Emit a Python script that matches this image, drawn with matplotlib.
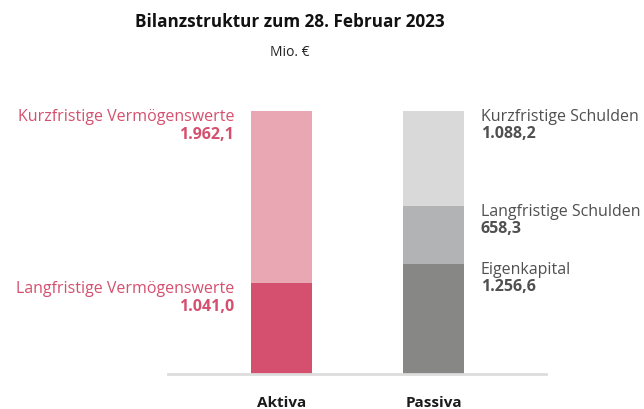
import numpy as np
import matplotlib.pyplot as plt
from matplotlib.transforms import offset_copy

plt.rcParams['font.family'] = ['Open Sans', 'DejaVu Sans']

# data (Mio. EUR)
categories = ['Aktiva', 'Passiva']
aktiva_labels = ['Langfristige Vermögenswerte', 'Kurzfristige Vermögenswerte']
aktiva_values = [1041.0, 1962.1]
aktiva_text = ['1.041,0', '1.962,1']
passiva_labels = ['Eigenkapital', 'Langfristige Schulden', 'Kurzfristige Schulden']
passiva_values = [1256.6, 658.3, 1088.2]
passiva_text = ['1.256,6', '658,3', '1.088,2']

aktiva_colors = ['#d5506e', '#e8a7b3']
passiva_colors = ['#878785', '#b2b3b4', '#d9d9d9']
pink = '#d5506e'
grey = '#505050'

W, H = 644, 409
fig = plt.figure(figsize=(W / 100, H / 100), dpi=100)
ax = fig.add_axes([168 / W, (H - 374) / H, (546 - 168) / W, (374 - 111) / H])

total = sum(aktiva_values)
bw = 0.4
bottom = 0
for v, c in zip(aktiva_values, aktiva_colors):
    ax.bar(0, v, bw, bottom=bottom, color=c, linewidth=0)
    bottom += v
bottom = 0
for v, c in zip(passiva_values, passiva_colors):
    ax.bar(1, v, bw, bottom=bottom, color=c, linewidth=0)
    bottom += v

ax.set_xlim(-0.747, 1.74)
ax.set_ylim(0, total)
for s in ['top', 'right', 'left']:
    ax.spines[s].set_visible(False)
ax.spines['bottom'].set_color('#dddddd')
ax.spines['bottom'].set_linewidth(2)
ax.set_yticks([])
ax.set_xticks([0, 1])
ax.set_xticklabels(categories, fontsize=11, fontweight='bold', color='#1a1a1a')
ax.tick_params(axis='x', length=0, pad=16)

# segment labels (offsets in pixels)
fs = 11.5
lab_l = offset_copy(ax.transData, fig=fig, x=-17, y=-10, units='dots')
val_l = offset_copy(ax.transData, fig=fig, x=-17, y=-28, units='dots')
lab_r = offset_copy(ax.transData, fig=fig, x=17, y=-10, units='dots')
val_r = offset_copy(ax.transData, fig=fig, x=17, y=-27, units='dots')

top = np.cumsum(aktiva_values)
for lab, txt, t in zip(aktiva_labels, aktiva_text, top):
    ax.text(-bw / 2, t, lab, transform=lab_l, ha='right', va='baseline',
            fontsize=fs, color=pink)
    ax.text(-bw / 2, t, txt, transform=val_l, ha='right', va='baseline',
            fontsize=fs, color=pink, fontweight='bold')
top = np.cumsum(passiva_values)
for lab, txt, t in zip(passiva_labels, passiva_text, top):
    ax.text(1 + bw / 2, t, lab, transform=lab_r, ha='left', va='baseline',
            fontsize=fs, color=grey)
    ax.text(1 + bw / 2, t, txt, transform=val_r, ha='left', va='baseline',
            fontsize=fs, color=grey, fontweight='bold')

fig.text(290 / W, 1 - 22 / H, 'Bilanzstruktur zum 28. Februar 2023',
         ha='center', va='center', fontsize=12.3, fontweight='bold', color='#111111')
fig.text(290 / W, 1 - 53 / H, 'Mio. €', ha='center', va='center',
         fontsize=10, color='#222222')

fig.savefig('out.png', dpi=100)
